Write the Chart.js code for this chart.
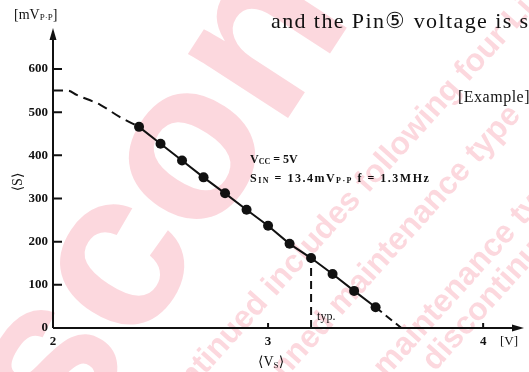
<!DOCTYPE html>
<html>
<head>
<meta charset="utf-8">
<title>S vs Vs</title>
<script src="https://cdn.jsdelivr.net/npm/chart.js@4.4.1/dist/chart.umd.min.js"></script>
<style>
  html, body { margin: 0; padding: 0; background: #fff; }
  #wrap { position: relative; width: 529px; height: 372px; }
</style>
</head>
<body>
<div id="wrap"><canvas id="vsChart"></canvas></div>
<script>
// measured points: Vs [V] against S [mVp-p]
const vsMeasured = [2.4, 2.5, 2.6, 2.7, 2.8, 2.9, 3.0, 3.1, 3.2, 3.3, 3.4, 3.5];
const sMeasured = [466, 427, 388, 349, 312, 274, 237, 195, 162, 125, 86, 48];
// dashed extension on the low side
const vsLow = [2.0, 2.07, 2.11, 2.22, 2.31, 2.4];
const sLow = [550, 550, 540, 517, 489, 466];
// dashed extension down to zero
const vsHigh = [3.5, 3.62];
const sHigh = [48, 0];
// typ. marker
const vsTyp = [3.2, 3.2];
const sTyp = [0, 162];

const yTicks = [0, 100, 200, 300, 400, 500, 600];
const xTicks = [2, 3, 4];

const INK = '#111';
const SERIF = '"Liberation Serif", "DejaVu Serif", serif';
const SANS = '"Liberation Sans", Arial, sans-serif';

function toXY(xs, ys) {
  return xs.map((x, i) => ({ x: x, y: ys[i] }));
}

// draws text made of pieces, some of them small subscripts
function richText(ctx, parts, x, y, align) {
  let total = 0;
  parts.forEach(p => {
    ctx.font = p.font;
    total += ctx.measureText(p.t).width;
  });
  let cx = align === 'center' ? x - total / 2 : x;
  parts.forEach(p => {
    ctx.font = p.font;
    ctx.fillText(p.t, cx, y + (p.dy || 0));
    cx += ctx.measureText(p.t).width;
  });
}

// places a line of text on a slant so that one word lands on (cx, cy)
function slanted(ctx, text, word, cx, cy, deg) {
  const idx = text.indexOf(word);
  const pre = ctx.measureText(text.slice(0, idx)).width;
  const d = pre + ctx.measureText(word).width / 2;
  const a = deg * Math.PI / 180;
  ctx.save();
  ctx.translate(cx - d * Math.cos(a), cy - d * Math.sin(a));
  ctx.rotate(a);
  ctx.textBaseline = 'middle';
  ctx.fillText(text, 0, 0);
  ctx.restore();
}

const pageBackground = {
  id: 'pageBackground',
  beforeDraw(chart) {
    const ctx = chart.ctx;
    ctx.save();
    ctx.fillStyle = '#fff';
    ctx.fillRect(0, 0, chart.width, chart.height);

    // pink stamp behind the page
    ctx.fillStyle = 'rgba(240, 60, 90, 0.2)';
    ctx.font = 'bold 225px ' + SANS;
    slanted(ctx, 'Discontinued', 'o', 190, 155, -57);
    ctx.font = 'bold 32px ' + SANS;
    slanted(ctx, 'Discontinued includes following four Lifecycle stage.', 'includes', 312, 243, -48);
    slanted(ctx, 'planned maintenance type', 'maintenance', 400, 238, -48);
    slanted(ctx, 'maintenance type', 'maintenance', 445, 300, -48);
    slanted(ctx, 'discontinued type', 'discontinued', 495, 292, -48);

    // surrounding page text
    ctx.fillStyle = INK;
    ctx.textBaseline = 'alphabetic';
    ctx.font = '22px ' + SERIF;
    ctx.letterSpacing = '1.4px';
    ctx.fillText('and the Pin\u2464 voltage is s', 271, 28);
    ctx.font = '16px ' + SERIF;
    ctx.letterSpacing = '0.5px';
    ctx.fillText('[Example]', 458, 102);
    ctx.letterSpacing = '0px';
    ctx.restore();
  }
};

const axesAndNotes = {
  id: 'axesAndNotes',
  beforeDatasetsDraw(chart) {
    const { ctx, chartArea: a, scales: { x, y } } = chart;
    const x0 = x.getPixelForValue(2);
    const y0 = y.getPixelForValue(0);
    ctx.save();
    ctx.strokeStyle = INK;
    ctx.fillStyle = INK;
    ctx.lineWidth = 2;
    ctx.beginPath();
    ctx.moveTo(x0, y0);
    ctx.lineTo(x0, a.top + 6);
    ctx.moveTo(x0, y0);
    ctx.lineTo(a.right - 6, y0);
    yTicks.forEach(v => {
      if (v === 0) return;
      const py = y.getPixelForValue(v);
      ctx.moveTo(x0, py);
      ctx.lineTo(x0 + 9, py);
    });
    xTicks.forEach(v => {
      if (v === 2) return;
      const px = x.getPixelForValue(v);
      ctx.moveTo(px, y0);
      ctx.lineTo(px, y0 - 5);
    });
    ctx.stroke();
    // arrow heads
    ctx.beginPath();
    ctx.moveTo(x0, a.top);
    ctx.lineTo(x0 - 3.5, a.top + 12);
    ctx.lineTo(x0 + 3.5, a.top + 12);
    ctx.closePath();
    ctx.fill();
    ctx.beginPath();
    ctx.moveTo(a.right, y0);
    ctx.lineTo(a.right - 12, y0 - 3.5);
    ctx.lineTo(a.right - 12, y0 + 3.5);
    ctx.closePath();
    ctx.fill();
    ctx.restore();
  },
  afterDraw(chart) {
    const { ctx, scales: { x, y } } = chart;
    ctx.save();
    ctx.fillStyle = INK;
    ctx.textBaseline = 'alphabetic';

    // unit and axis names
    richText(ctx, [
      { t: '[mV', font: '14px ' + SERIF },
      { t: 'P\u00b7P', font: '9px ' + SERIF, dy: 1 },
      { t: ']', font: '14px ' + SERIF }
    ], 14, 19);
    ctx.save();
    ctx.translate(22, 182);
    ctx.rotate(-Math.PI / 2);
    ctx.font = '14px ' + SERIF;
    ctx.textAlign = 'center';
    ctx.fillText('\u27e8S\u27e9', 0, 0);
    ctx.restore();
    richText(ctx, [
      { t: '\u27e8V', font: '14px ' + SERIF },
      { t: 'S', font: '9px ' + SERIF, dy: 2 },
      { t: '\u27e9', font: '14px ' + SERIF }
    ], x.getPixelForValue(3) + 3, 366, 'center');
    ctx.font = '13px ' + SERIF;
    ctx.fillText('[V]', 500, 345);

    // conditions
    const b = 'bold 12px ' + SERIF;
    const s = 'bold 8px ' + SERIF;
    richText(ctx, [
      { t: 'V', font: b }, { t: 'CC', font: s, dy: 1 }, { t: ' = 5V', font: b }
    ], 250, 163);
    ctx.letterSpacing = '1.5px';
    richText(ctx, [
      { t: 'S', font: b }, { t: 'IN', font: s, dy: 1 }, { t: ' = 13.4mV', font: b },
      { t: 'P\u00b7P', font: s, dy: 1 }, { t: ' f = 1.3MHz', font: b }
    ], 250, 182);
    ctx.letterSpacing = '0px';

    ctx.font = '12px ' + SERIF;
    ctx.fillText('typ.', x.getPixelForValue(3.2) + 6, y.getPixelForValue(0) - 8);
    ctx.restore();
  }
};

const tickFont = { family: SERIF, size: 13, weight: 'bold' };

new Chart(document.getElementById('vsChart'), {
  type: 'scatter',
  data: {
    datasets: [
      {
        label: 'S',
        data: toXY(vsMeasured, sMeasured),
        showLine: true,
        borderColor: INK,
        borderWidth: 2,
        pointRadius: 5,
        pointBackgroundColor: INK,
        pointBorderWidth: 0,
        tension: 0
      },
      {
        label: 'low side',
        data: toXY(vsLow, sLow),
        showLine: true,
        borderColor: INK,
        borderWidth: 2,
        borderDash: [10, 6],
        pointRadius: 0,
        cubicInterpolationMode: 'monotone'
      },
      {
        label: 'high side',
        data: toXY(vsHigh, sHigh),
        showLine: true,
        borderColor: INK,
        borderWidth: 2,
        borderDash: [8, 5],
        pointRadius: 0
      },
      {
        label: 'typ.',
        data: toXY(vsTyp, sTyp),
        showLine: true,
        borderColor: INK,
        borderWidth: 2,
        borderDash: [8, 5],
        pointRadius: 0
      }
    ]
  },
  options: {
    responsive: true,
    maintainAspectRatio: false,
    animation: false,
    layout: { padding: { left: 0, top: 28, right: 4, bottom: 0 } },
    plugins: { legend: { display: false }, tooltip: { enabled: false } },
    scales: {
      x: {
        type: 'linear',
        min: 2,
        max: 4.19,
        grid: { display: false, drawTicks: false },
        border: { display: false },
        afterBuildTicks: sc => { sc.ticks = xTicks.map(v => ({ value: v })); },
        afterFit: sc => { sc.height = 44; },
        ticks: { padding: 6, color: INK, font: tickFont, callback: v => v }
      },
      y: {
        type: 'linear',
        min: 0,
        max: 695,
        grid: { display: false, drawTicks: false },
        border: { display: false },
        afterBuildTicks: sc => { sc.ticks = yTicks.map(v => ({ value: v })); },
        afterFit: sc => { sc.width = 53; },
        ticks: { padding: 5, color: INK, font: tickFont, callback: v => v }
      }
    }
  },
  plugins: [pageBackground, axesAndNotes]
});
</script>
</body>
</html>
